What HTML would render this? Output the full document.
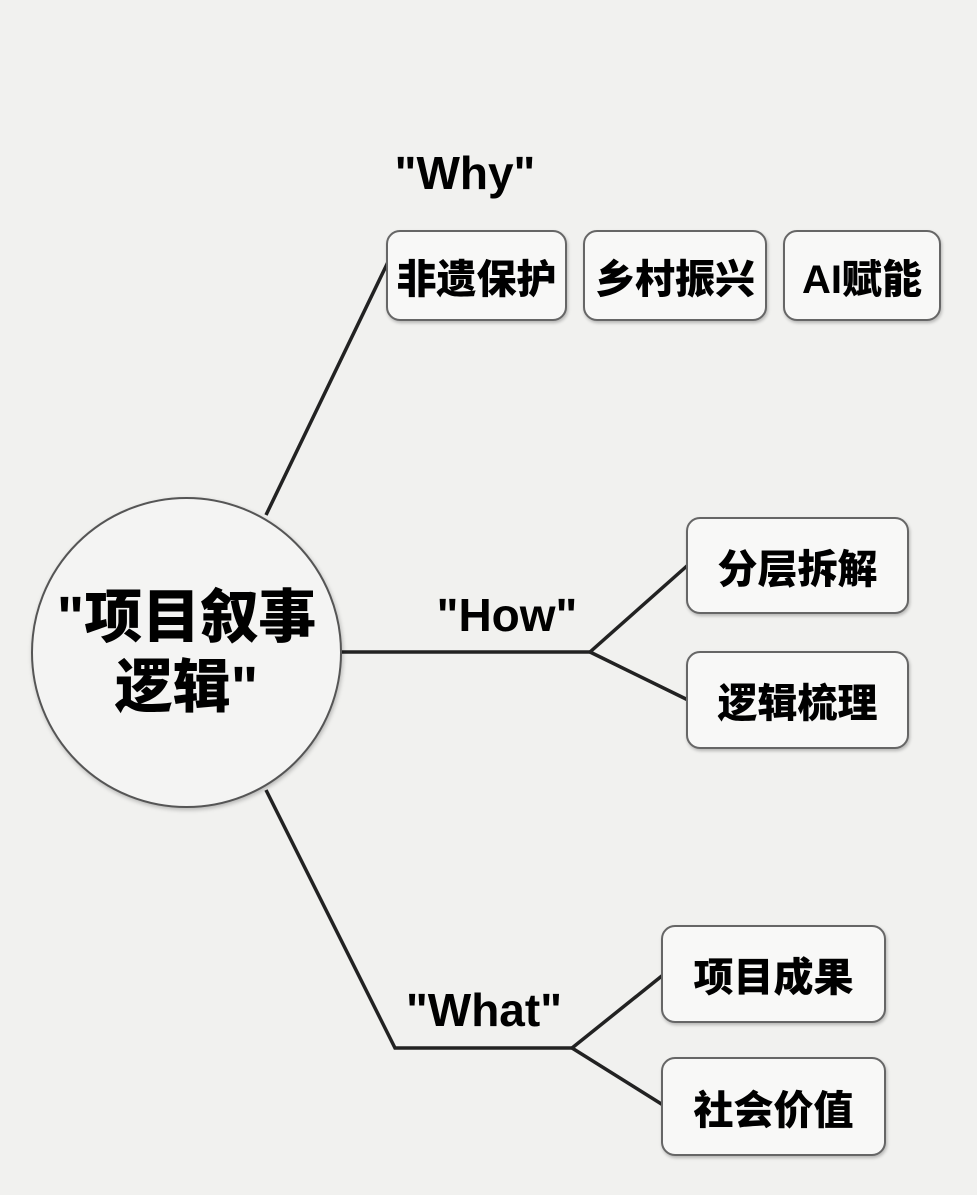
<!DOCTYPE html>
<html><head><meta charset="utf-8"><style>
body{margin:0;width:977px;height:1195px;background:#f1f1ef;overflow:hidden;position:relative;font-family:"Liberation Sans","Noto Sans CJK SC",sans-serif;font-weight:900;color:#000}
.b{position:absolute;box-sizing:border-box;border:2.5px solid #666;border-radius:14px;background:#f8f8f7;box-shadow:1px 2px 3px rgba(0,0,0,.25);display:flex;align-items:center;justify-content:center;font-size:40px}
.l{position:absolute;font-size:46px;transform:translateX(-50%);white-space:nowrap}
.c{position:absolute;left:31px;top:497px;width:311px;height:311px;box-sizing:border-box;border:2.5px solid #555;border-radius:50%;background:#f4f4f3;box-shadow:1px 2px 4px rgba(0,0,0,.25);display:flex;align-items:center;justify-content:center;text-align:center;font-size:58px;line-height:70px}
</style></head><body>
<svg width="977" height="1195" style="position:absolute;left:0;top:0">
<g stroke="#222" stroke-width="3.5" fill="none">
<line x1="266" y1="515" x2="388" y2="262"/>
<polyline points="342,652 590,652"/>
<line x1="590" y1="652" x2="688" y2="565"/>
<line x1="590" y1="652" x2="688" y2="700"/>
<polyline points="266,790 395,1048 572,1048"/>
<line x1="572" y1="1048" x2="663" y2="975"/>
<line x1="572" y1="1048" x2="663" y2="1105"/>
</g></svg>
<div class="c">"项目叙事<br>逻辑"</div>
<div class="l" style="left:465px;top:146px">"Why"</div>
<div class="l" style="left:507px;top:588px">"How"</div>
<div class="l" style="left:484px;top:983px">"What"</div>
<div class="b" style="left:386px;top:230px;width:181px;height:91px">非遗保护</div>
<div class="b" style="left:583px;top:230px;width:184px;height:91px">乡村振兴</div>
<div class="b" style="left:783px;top:230px;width:158px;height:91px">AI赋能</div>
<div class="b" style="left:686px;top:517px;width:223px;height:97px">分层拆解</div>
<div class="b" style="left:686px;top:651px;width:223px;height:98px">逻辑梳理</div>
<div class="b" style="left:661px;top:925px;width:225px;height:98px">项目成果</div>
<div class="b" style="left:661px;top:1057px;width:225px;height:99px">社会价值</div>
</body></html>
